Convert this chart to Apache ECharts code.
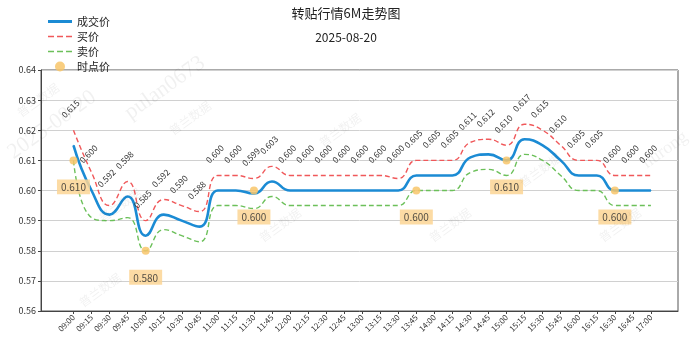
<!DOCTYPE html>
<html>
<head>
<meta charset="utf-8">
<script src="https://cdn.jsdelivr.net/npm/echarts@6/dist/echarts.min.js"></script>
<style>
  html, body { margin: 0; padding: 0; background: #fff; }
  #chart { width: 692px; height: 342px; }
</style>
</head>
<body>
<div id="chart"></div>
<script>
// 6M discount trading quotes, 15-minute snapshots
const times = [
  '09:00','09:15','09:30','09:45','10:00','10:15','10:30','10:45',
  '11:00','11:15','11:30','11:45','12:00','12:15','12:30','12:45',
  '13:00','13:15','13:30','13:45','14:00','14:15','14:30','14:45',
  '15:00','15:15','15:30','15:45','16:00','16:15','16:30','16:45','17:00'
];
// 成交价
const dealPrice = [
  0.615, 0.600, 0.592, 0.598, 0.585, 0.592, 0.590, 0.588,
  0.600, 0.600, 0.599, 0.603, 0.600, 0.600, 0.600, 0.600,
  0.600, 0.600, 0.600, 0.605, 0.605, 0.605, 0.611, 0.612,
  0.610, 0.617, 0.615, 0.610, 0.605, 0.605, 0.600, 0.600, 0.600
];
// 买价
const bidPrice = [
  0.620, 0.606, 0.595, 0.603, 0.590, 0.597, 0.595, 0.593,
  0.605, 0.605, 0.604, 0.608, 0.605, 0.605, 0.605, 0.605,
  0.605, 0.605, 0.604, 0.610, 0.610, 0.610, 0.616, 0.617,
  0.615, 0.622, 0.620, 0.615, 0.610, 0.610, 0.605, 0.605, 0.605
];
// 卖价
const askPrice = [
  0.610, 0.591, 0.590, 0.591, 0.580, 0.587, 0.585, 0.583,
  0.595, 0.595, 0.594, 0.598, 0.595, 0.595, 0.595, 0.595,
  0.595, 0.595, 0.595, 0.600, 0.600, 0.600, 0.606, 0.607,
  0.605, 0.612, 0.610, 0.605, 0.600, 0.600, 0.595, 0.595, 0.595
];
// 时点价
const spotIndex = [0, 4, 10, 19, 24, 30];
const spotPrice = [0.610, 0.580, 0.600, 0.600, 0.610, 0.600];

const yMin = 0.56, yMax = 0.64, yStep = 0.01;

const FONT = '"Noto Sans CJK SC", "DejaVu Sans", sans-serif';
const idx = times.map((t, i) => i);
const pairs = arr => arr.map((v, i) => [i, v]);

const BLUE = '#1b8bd4', RED = '#f0585a', GREEN = '#6cc05a', GOLD = '#f8c56a';

// legend glyphs: a solid bar and a dashed bar
const solidIcon = 'path://M0,0h24v3h-24z';
const dashIcon = 'path://M0,0h6v1.5h-6z M9,0h6v1.5h-6z M18,0h6v1.5h-6z';

const chart = echarts.init(document.getElementById('chart'), null, { renderer: 'canvas' });

// faint diagonal watermark texts
const wm = (text, x, y, size, serif) => ({
  type: 'text', x: x, y: y, rotation: 0.62, z: 100, silent: true,
  style: {
    text: text, fill: 'rgba(0,0,0,0.06)', fontSize: size,
    fontFamily: serif ? '"Liberation Serif", serif' : FONT,
    align: 'center', verticalAlign: 'middle'
  }
});

chart.setOption({
  animation: false,
  backgroundColor: '#fff',
  textStyle: { fontFamily: FONT },
  title: {
    text: '转贴行情6M走势图',
    subtext: '2025-08-20',
    left: 'center',
    top: 2,
    itemGap: 11,
    textStyle: { fontSize: 13, fontWeight: 'normal', color: '#222', fontFamily: FONT },
    subtextStyle: { fontSize: 12, color: '#222', fontFamily: FONT }
  },
  legend: {
    orient: 'vertical',
    left: 43,
    top: 11,
    itemWidth: 24,
    itemHeight: 10,
    itemGap: 4,
    textStyle: { fontSize: 11, color: '#222', fontFamily: FONT },
    data: [
      { name: '成交价', icon: solidIcon, itemStyle: { color: BLUE } },
      { name: '买价', icon: dashIcon, itemStyle: { color: RED } },
      { name: '卖价', icon: dashIcon, itemStyle: { color: GREEN } },
      { name: '时点价', icon: 'circle', itemStyle: { color: GOLD } }
    ]
  },
  grid: {
    left: 41, right: 14, top: 70, bottom: 31,
    show: true, borderColor: '#555', borderWidth: 1
  },
  xAxis: {
    type: 'value',
    min: -1.8,
    max: 33.5,
    axisLine: { show: true, onZero: false, lineStyle: { color: '#444' } },
    axisTick: { show: true, customValues: idx, length: 3, lineStyle: { color: '#444' } },
    axisLabel: {
      customValues: idx,
      rotate: 45,
      fontSize: 8,
      color: '#333',
      margin: 5,
      formatter: v => times[v]
    },
    splitLine: { show: false }
  },
  yAxis: {
    type: 'value',
    min: yMin,
    max: yMax,
    interval: yStep,
    axisLine: { show: true, onZero: false, lineStyle: { color: '#444' } },
    axisTick: { show: true, length: 3, lineStyle: { color: '#444' } },
    axisLabel: { fontSize: 9, color: '#333', margin: 5, formatter: v => v.toFixed(2) },
    splitLine: { show: true, lineStyle: { color: '#d0d0d0', width: 1 } }
  },
  series: [
    {
      name: '成交价',
      type: 'line',
      data: pairs(dealPrice),
      smooth: 0.5,
      symbol: 'circle',
      symbolSize: 1,
      showSymbol: true,
      z: 4,
      lineStyle: { color: BLUE, width: 2.6 },
      itemStyle: { color: BLUE },
      label: {
        show: true,
        position: 'top',
        distance: 33,
        rotate: 45,
        fontSize: 8.5,
        color: '#333',
        formatter: p => p.value[1].toFixed(3)
      }
    },
    {
      name: '买价',
      type: 'line',
      data: pairs(bidPrice),
      smooth: 0.5,
      symbol: 'none',
      z: 3,
      lineStyle: { color: RED, width: 1.4, type: [5, 3] },
      itemStyle: { color: RED }
    },
    {
      name: '卖价',
      type: 'line',
      data: pairs(askPrice),
      smooth: 0.5,
      symbol: 'none',
      z: 3,
      lineStyle: { color: GREEN, width: 1.4, type: [5, 3] },
      itemStyle: { color: GREEN }
    },
    {
      name: '时点价',
      type: 'scatter',
      data: spotIndex.map((i, k) => [i, spotPrice[k]]),
      symbol: 'circle',
      symbolSize: 8,
      z: 5,
      itemStyle: { color: GOLD, opacity: 0.85 },
      label: {
        show: true,
        position: 'bottom',
        distance: 15,
        fontSize: 10,
        color: '#333',
        backgroundColor: '#fcd594',
        padding: [3, 4, 2, 4],
        formatter: p => p.value[1].toFixed(3)
      }
    }
  ],
  graphic: [
    wm('2025-08-20', 52, 125, 22, true),
    wm('pulan0673', 165, 88, 22, true),
    wm('普兰数据', 38, 100, 12),
    wm('普兰数据', 190, 118, 12),
    wm('普兰数据', 120, 205, 12),
    wm('普兰数据', 340, 130, 12),
    wm('普兰数据', 280, 225, 12),
    wm('普兰数据', 450, 225, 12),
    wm('普兰数据', 540, 170, 12),
    wm('普兰数据', 620, 225, 12),
    wm('普兰数据', 100, 290, 12),
    wm('hurong', 665, 150, 18, true)
  ]
});
</script>
</body>
</html>
